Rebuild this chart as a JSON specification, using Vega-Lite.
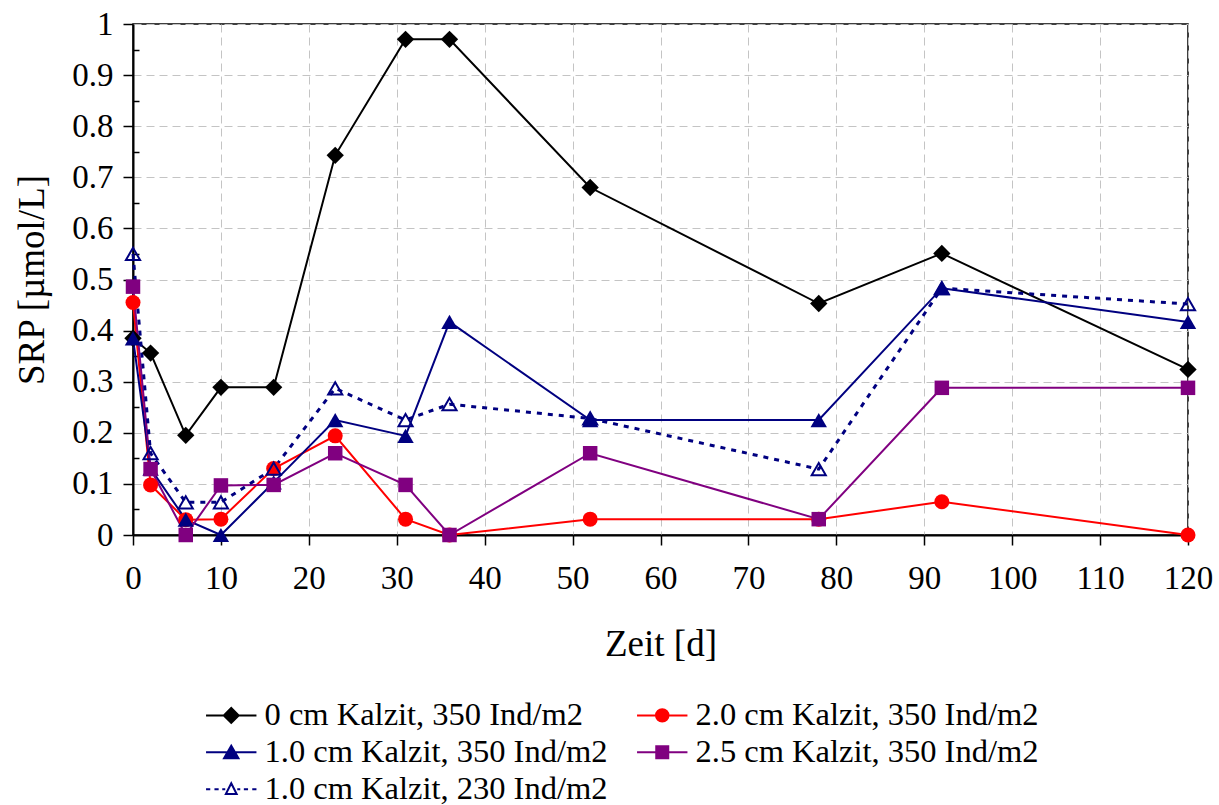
{
  "$schema": "https://vega.github.io/schema/vega-lite/v6.json",
  "width": 1055,
  "height": 511,
  "autosize": "none",
  "padding": {"left": 133, "top": 24, "right": 31, "bottom": 270},
  "background": "white",
  "config": {
    "view": {"stroke": "black", "strokeWidth": 1.5},
    "font": "Liberation Serif, Times New Roman, serif",
    "axis": {
      "labelFont": "Liberation Serif, Times New Roman, serif",
      "titleFont": "Liberation Serif, Times New Roman, serif",
      "labelColor": "black",
      "titleColor": "black",
      "domainColor": "black",
      "domainWidth": 2,
      "tickColor": "black",
      "tickWidth": 1.5,
      "gridColor": "#c4c4c4",
      "gridDash": [8, 5],
      "gridWidth": 1,
      "titleFontWeight": "normal"
    },
    "legend": {
      "labelFont": "Liberation Serif, Times New Roman, serif"
    }
  },
  "data": {
    "values": [
      {"x": 0, "y": 0.385, "s": "0 cm Kalzit, 350 Ind/m2"},
      {"x": 2, "y": 0.356, "s": "0 cm Kalzit, 350 Ind/m2"},
      {"x": 6, "y": 0.195, "s": "0 cm Kalzit, 350 Ind/m2"},
      {"x": 10, "y": 0.289, "s": "0 cm Kalzit, 350 Ind/m2"},
      {"x": 16, "y": 0.289, "s": "0 cm Kalzit, 350 Ind/m2"},
      {"x": 23, "y": 0.743, "s": "0 cm Kalzit, 350 Ind/m2"},
      {"x": 31, "y": 0.97, "s": "0 cm Kalzit, 350 Ind/m2"},
      {"x": 36, "y": 0.97, "s": "0 cm Kalzit, 350 Ind/m2"},
      {"x": 52, "y": 0.68, "s": "0 cm Kalzit, 350 Ind/m2"},
      {"x": 78, "y": 0.453, "s": "0 cm Kalzit, 350 Ind/m2"},
      {"x": 92, "y": 0.551, "s": "0 cm Kalzit, 350 Ind/m2"},
      {"x": 120, "y": 0.324, "s": "0 cm Kalzit, 350 Ind/m2"},
      {"x": 0, "y": 0.455, "s": "2.0 cm Kalzit, 350 Ind/m2"},
      {"x": 2, "y": 0.098, "s": "2.0 cm Kalzit, 350 Ind/m2"},
      {"x": 6, "y": 0.03, "s": "2.0 cm Kalzit, 350 Ind/m2"},
      {"x": 10, "y": 0.031, "s": "2.0 cm Kalzit, 350 Ind/m2"},
      {"x": 16, "y": 0.13, "s": "2.0 cm Kalzit, 350 Ind/m2"},
      {"x": 23, "y": 0.194, "s": "2.0 cm Kalzit, 350 Ind/m2"},
      {"x": 31, "y": 0.031, "s": "2.0 cm Kalzit, 350 Ind/m2"},
      {"x": 36, "y": 0, "s": "2.0 cm Kalzit, 350 Ind/m2"},
      {"x": 52, "y": 0.031, "s": "2.0 cm Kalzit, 350 Ind/m2"},
      {"x": 78, "y": 0.031, "s": "2.0 cm Kalzit, 350 Ind/m2"},
      {"x": 92, "y": 0.065, "s": "2.0 cm Kalzit, 350 Ind/m2"},
      {"x": 120, "y": 0, "s": "2.0 cm Kalzit, 350 Ind/m2"},
      {"x": 0, "y": 0.385, "s": "1.0 cm Kalzit, 350 Ind/m2"},
      {"x": 2, "y": 0.13, "s": "1.0 cm Kalzit, 350 Ind/m2"},
      {"x": 6, "y": 0.03, "s": "1.0 cm Kalzit, 350 Ind/m2"},
      {"x": 10, "y": 0, "s": "1.0 cm Kalzit, 350 Ind/m2"},
      {"x": 16, "y": 0.103, "s": "1.0 cm Kalzit, 350 Ind/m2"},
      {"x": 23, "y": 0.225, "s": "1.0 cm Kalzit, 350 Ind/m2"},
      {"x": 31, "y": 0.194, "s": "1.0 cm Kalzit, 350 Ind/m2"},
      {"x": 36, "y": 0.417, "s": "1.0 cm Kalzit, 350 Ind/m2"},
      {"x": 52, "y": 0.225, "s": "1.0 cm Kalzit, 350 Ind/m2"},
      {"x": 78, "y": 0.225, "s": "1.0 cm Kalzit, 350 Ind/m2"},
      {"x": 92, "y": 0.483, "s": "1.0 cm Kalzit, 350 Ind/m2"},
      {"x": 120, "y": 0.417, "s": "1.0 cm Kalzit, 350 Ind/m2"},
      {"x": 0, "y": 0.486, "s": "2.5 cm Kalzit, 350 Ind/m2"},
      {"x": 2, "y": 0.129, "s": "2.5 cm Kalzit, 350 Ind/m2"},
      {"x": 6, "y": 0, "s": "2.5 cm Kalzit, 350 Ind/m2"},
      {"x": 10, "y": 0.097, "s": "2.5 cm Kalzit, 350 Ind/m2"},
      {"x": 16, "y": 0.098, "s": "2.5 cm Kalzit, 350 Ind/m2"},
      {"x": 23, "y": 0.16, "s": "2.5 cm Kalzit, 350 Ind/m2"},
      {"x": 31, "y": 0.098, "s": "2.5 cm Kalzit, 350 Ind/m2"},
      {"x": 36, "y": 0, "s": "2.5 cm Kalzit, 350 Ind/m2"},
      {"x": 52, "y": 0.16, "s": "2.5 cm Kalzit, 350 Ind/m2"},
      {"x": 78, "y": 0.031, "s": "2.5 cm Kalzit, 350 Ind/m2"},
      {"x": 92, "y": 0.288, "s": "2.5 cm Kalzit, 350 Ind/m2"},
      {"x": 120, "y": 0.288, "s": "2.5 cm Kalzit, 350 Ind/m2"},
      {"x": 0, "y": 0.55, "s": "1.0 cm Kalzit, 230 Ind/m2"},
      {"x": 2, "y": 0.16, "s": "1.0 cm Kalzit, 230 Ind/m2"},
      {"x": 6, "y": 0.064, "s": "1.0 cm Kalzit, 230 Ind/m2"},
      {"x": 10, "y": 0.064, "s": "1.0 cm Kalzit, 230 Ind/m2"},
      {"x": 16, "y": 0.13, "s": "1.0 cm Kalzit, 230 Ind/m2"},
      {"x": 23, "y": 0.287, "s": "1.0 cm Kalzit, 230 Ind/m2"},
      {"x": 31, "y": 0.225, "s": "1.0 cm Kalzit, 230 Ind/m2"},
      {"x": 36, "y": 0.256, "s": "1.0 cm Kalzit, 230 Ind/m2"},
      {"x": 52, "y": 0.228, "s": "1.0 cm Kalzit, 230 Ind/m2"},
      {"x": 78, "y": 0.129, "s": "1.0 cm Kalzit, 230 Ind/m2"},
      {"x": 92, "y": 0.483, "s": "1.0 cm Kalzit, 230 Ind/m2"},
      {"x": 120, "y": 0.452, "s": "1.0 cm Kalzit, 230 Ind/m2"}
    ]
  },
  "encoding": {
    "x": {
      "field": "x", "type": "quantitative",
      "scale": {"domain": [0, 120], "nice": false, "zero": false},
      "axis": {
        "title": "Zeit [d]",
        "values": [0, 10, 20, 30, 40, 50, 60, 70, 80, 90, 100, 110, 120],
        "labelFont": "Liberation Serif, Times New Roman, serif",
        "titleFont": "Liberation Serif, Times New Roman, serif",
        "labelFontSize": 33,
        "titleFontSize": 37,
        "tickSize": 10,
        "labelPadding": 17,
        "titlePadding": 31,
        "labelFlush": false
      }
    },
    "y": {
      "field": "y", "type": "quantitative",
      "scale": {"domain": [0, 1], "nice": false},
      "axis": {
        "title": "SRP [µmol/L]",
        "values": [0, 0.05, 0.1, 0.15, 0.2, 0.25, 0.3, 0.35, 0.4, 0.45, 0.5, 0.55, 0.6, 0.65, 0.7, 0.75, 0.8, 0.85, 0.9, 0.95, 1],
        "labelExpr": "round(datum.value*100) % 10 == 0 ? format(datum.value, '~g') : ''",
        "gridOpacity": {"condition": {"test": "round(datum.value*100) % 10 != 0", "value": 0}, "value": 1},
        "tickSize": {"condition": {"test": "round(datum.value*100) % 10 != 0", "value": -6}, "value": 10},
        "labelFont": "Liberation Serif, Times New Roman, serif",
        "titleFont": "Liberation Serif, Times New Roman, serif",
        "labelFontSize": 33,
        "titleFontSize": 37,
        "labelPadding": 10,
        "titlePadding": 20,
        "labelFlush": false
      }
    }
  },
  "layer": [
    {
      "transform": [{"filter": "datum.s !== '1.0 cm Kalzit, 230 Ind/m2'"}],
      "mark": {"type": "line", "strokeWidth": 2},
      "encoding": {
        "stroke": {
          "field": "s", "type": "nominal",
          "scale": {
            "domain": ["0 cm Kalzit, 350 Ind/m2", "1.0 cm Kalzit, 350 Ind/m2", "1.0 cm Kalzit, 230 Ind/m2", "2.0 cm Kalzit, 350 Ind/m2", "2.5 cm Kalzit, 350 Ind/m2"],
            "range": ["#000000", "#000080", "#000080", "#ff0000", "#800080"]
          },
          "legend": {
            "title": null,
            "orient": "none",
            "legendX": 69,
            "legendY": 675,
            "columns": 2,
            "columnPadding": 25,
            "rowPadding": 4,
            "padding": 0,
            "labelFont": "Liberation Serif, Times New Roman, serif",
            "labelFontSize": 32.5,
            "labelColor": "black",
            "labelLimit": 500,
            "symbolSize": 576,
            "symbolStrokeWidth": 2,
            "symbolOffset": 13,
            "labelOffset": 17,
            "symbolType": {"expr": "datum.value === '0 cm Kalzit, 350 Ind/m2' ? 'M-2.1,0H2.1M0,-0.62L0.62,0L0,0.62L-0.62,0Z' : datum.value === '2.0 cm Kalzit, 350 Ind/m2' ? 'M-2.1,0H2.1M0.52,0A0.52,0.52 0 1,1 -0.52,0A0.52,0.52 0 1,1 0.52,0Z' : datum.value === '1.0 cm Kalzit, 350 Ind/m2' ? 'M-2.1,0H2.1M0,-0.55L0.6,0.5L-0.6,0.5Z' : datum.value === '2.5 cm Kalzit, 350 Ind/m2' ? 'M-2.1,0H2.1M-0.5,-0.5H0.5V0.5H-0.5Z' : 'M-2.1,0H-1.75M-1.4,0H-1.05M-0.75,0H-0.5M0.5,0H0.75M1.05,0H1.4M1.75,0H2.1M0,-0.5L0.45,0.4L-0.45,0.4Z'"},
            "symbolFillColor": {"expr": "datum.value === '0 cm Kalzit, 350 Ind/m2' ? '#000000' : datum.value === '2.0 cm Kalzit, 350 Ind/m2' ? '#ff0000' : datum.value === '1.0 cm Kalzit, 350 Ind/m2' ? '#000080' : datum.value === '2.5 cm Kalzit, 350 Ind/m2' ? '#800080' : '#ffffff'"}
          }
        },
        "order": {"field": "x", "type": "quantitative"}
      }
    },
    {
      "transform": [{"filter": "datum.s === '1.0 cm Kalzit, 230 Ind/m2'"}],
      "mark": {"type": "line", "stroke": "#000080", "strokeWidth": 3, "strokeDash": [5, 6]},
      "encoding": {"order": {"field": "x", "type": "quantitative"}}
    },
    {
      "transform": [{"filter": "datum.s === '0 cm Kalzit, 350 Ind/m2'"}],
      "mark": {"type": "point", "shape": "diamond", "filled": true, "color": "#000000", "size": 300, "opacity": 1},
      "encoding": {}
    },
    {
      "transform": [{"filter": "datum.s === '2.0 cm Kalzit, 350 Ind/m2'"}],
      "mark": {"type": "point", "shape": "circle", "filled": true, "color": "#ff0000", "size": 225, "opacity": 1},
      "encoding": {}
    },
    {
      "transform": [{"filter": "datum.s === '1.0 cm Kalzit, 350 Ind/m2'"}],
      "mark": {"type": "point", "shape": "triangle-up", "filled": true, "color": "#000080", "size": 270, "opacity": 1},
      "encoding": {}
    },
    {
      "transform": [{"filter": "datum.s === '2.5 cm Kalzit, 350 Ind/m2'"}],
      "mark": {"type": "point", "shape": "square", "filled": true, "color": "#800080", "size": 210, "opacity": 1},
      "encoding": {}
    },
    {
      "transform": [{"filter": "datum.s === '1.0 cm Kalzit, 230 Ind/m2'"}],
      "mark": {"type": "point", "shape": "triangle-up", "filled": false, "stroke": "#000080", "strokeWidth": 2, "size": 200, "opacity": 1},
      "encoding": {}
    }
  ]
}
